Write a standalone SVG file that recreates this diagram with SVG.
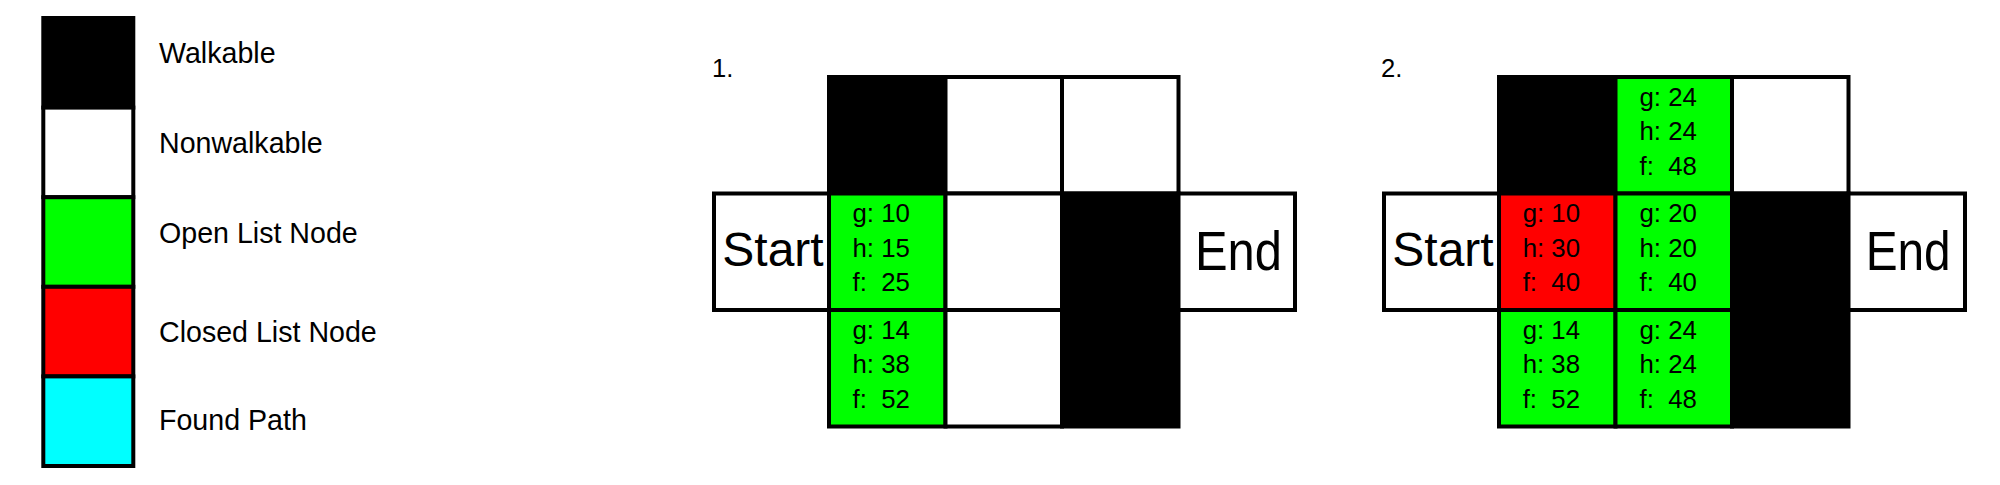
<svg xmlns="http://www.w3.org/2000/svg" width="2000" height="485" viewBox="0 0 2000 485">
<style>
.c{stroke:#000;stroke-width:4}
.blk{fill:#000}
.wht{fill:#fff}
.grn{fill:#00ff00}
.red{fill:#ff0000}
.cyn{fill:#00ffff}
text{font-family:"Liberation Sans",Arial,sans-serif;fill:#000}
.lg{font-size:28.6px}
.v{font-size:25.8px}
.st{font-size:48px}
.en{font-size:56px}
.num{font-size:25.6px}
</style>
<rect width="2000" height="485" fill="#fff"/>
<g id="legend">
<g id="leg-walkable"><rect class="c blk" x="43.3" y="18" width="90" height="89.6"/><text class="lg" x="159" y="63">Walkable</text></g>
<g id="leg-nonwalkable"><rect class="c wht" x="43.3" y="107.6" width="90" height="89.6"/><text class="lg" x="159" y="153">Nonwalkable</text></g>
<g id="leg-open"><rect class="c grn" x="43.3" y="197.2" width="90" height="89.6"/><text class="lg" x="159" y="243">Open List Node</text></g>
<g id="leg-closed"><rect class="c red" x="43.3" y="286.8" width="90" height="89.6"/><text class="lg" x="159" y="342">Closed List Node</text></g>
<g id="leg-found"><rect class="c cyn" x="43.3" y="376.4" width="90" height="89.6"/><text class="lg" x="159" y="430">Found Path</text></g>
</g>
<g id="grid1">
<text id="g1-label" class="num" x="712" y="76.7">1.</text>
<g id="g1-r0c1"><rect class="c blk" x="829" y="77" width="116.5" height="116.5"/></g>
<g id="g1-r0c2"><rect class="c wht" x="945.5" y="77" width="116.5" height="116.5"/></g>
<g id="g1-r0c3"><rect class="c wht" x="1062" y="77" width="116.5" height="116.5"/></g>
<g id="g1-start"><rect class="c wht" x="714" y="193.5" width="115" height="116.5"/><text class="st" x="722.3" y="265.7">Start</text></g>
<g id="g1-r1c1"><rect class="c grn" x="829" y="193.5" width="116.5" height="116.5"/><text class="v" x="852.5" y="222">g: 10</text><text class="v" x="852.5" y="256.5">h: 15</text><text class="v" x="852.5" y="291" xml:space="preserve">f:  25</text></g>
<g id="g1-r1c2"><rect class="c wht" x="945.5" y="193.5" width="116.5" height="116.5"/></g>
<g id="g1-r1c3"><rect class="c blk" x="1062" y="193.5" width="116.5" height="116.5"/></g>
<g id="g1-end"><rect class="c wht" x="1178.5" y="193.5" width="116.5" height="116.5"/><text class="en" x="1195" y="269.5" textLength="87" lengthAdjust="spacingAndGlyphs">End</text></g>
<g id="g1-r2c1"><rect class="c grn" x="829" y="310" width="116.5" height="116.5"/><text class="v" x="852.5" y="338.5">g: 14</text><text class="v" x="852.5" y="373">h: 38</text><text class="v" x="852.5" y="407.5" xml:space="preserve">f:  52</text></g>
<g id="g1-r2c2"><rect class="c wht" x="945.5" y="310" width="116.5" height="116.5"/></g>
<g id="g1-r2c3"><rect class="c blk" x="1062" y="310" width="116.5" height="116.5"/></g>
</g>
<g id="grid2">
<text id="g2-label" class="num" x="1381" y="76.7">2.</text>
<g id="g2-r0c1"><rect class="c blk" x="1499" y="77" width="116.5" height="116.5"/></g>
<g id="g2-r0c2"><rect class="c grn" x="1615.5" y="77" width="116.5" height="116.5"/><text class="v" x="1639.5" y="105.5">g: 24</text><text class="v" x="1639.5" y="140">h: 24</text><text class="v" x="1639.5" y="174.5" xml:space="preserve">f:  48</text></g>
<g id="g2-r0c3"><rect class="c wht" x="1732" y="77" width="116.5" height="116.5"/></g>
<g id="g2-start"><rect class="c wht" x="1384" y="193.5" width="115" height="116.5"/><text class="st" x="1392.3" y="265.7">Start</text></g>
<g id="g2-r1c1"><rect class="c red" x="1499" y="193.5" width="116.5" height="116.5"/><text class="v" x="1522.7" y="222">g: 10</text><text class="v" x="1522.7" y="256.5">h: 30</text><text class="v" x="1522.7" y="291" xml:space="preserve">f:  40</text></g>
<g id="g2-r1c2"><rect class="c grn" x="1615.5" y="193.5" width="116.5" height="116.5"/><text class="v" x="1639.5" y="222">g: 20</text><text class="v" x="1639.5" y="256.5">h: 20</text><text class="v" x="1639.5" y="291" xml:space="preserve">f:  40</text></g>
<g id="g2-r1c3"><rect class="c blk" x="1732" y="193.5" width="116.5" height="116.5"/></g>
<g id="g2-end"><rect class="c wht" x="1848.5" y="193.5" width="116.5" height="116.5"/><text class="en" x="1865.7" y="269.5" textLength="85" lengthAdjust="spacingAndGlyphs">End</text></g>
<g id="g2-r2c1"><rect class="c grn" x="1499" y="310" width="116.5" height="116.5"/><text class="v" x="1522.7" y="338.5">g: 14</text><text class="v" x="1522.7" y="373">h: 38</text><text class="v" x="1522.7" y="407.5" xml:space="preserve">f:  52</text></g>
<g id="g2-r2c2"><rect class="c grn" x="1615.5" y="310" width="116.5" height="116.5"/><text class="v" x="1639.5" y="338.5">g: 24</text><text class="v" x="1639.5" y="373">h: 24</text><text class="v" x="1639.5" y="407.5" xml:space="preserve">f:  48</text></g>
<g id="g2-r2c3"><rect class="c blk" x="1732" y="310" width="116.5" height="116.5"/></g>
</g>
<g id="connectors"/>
</svg>
